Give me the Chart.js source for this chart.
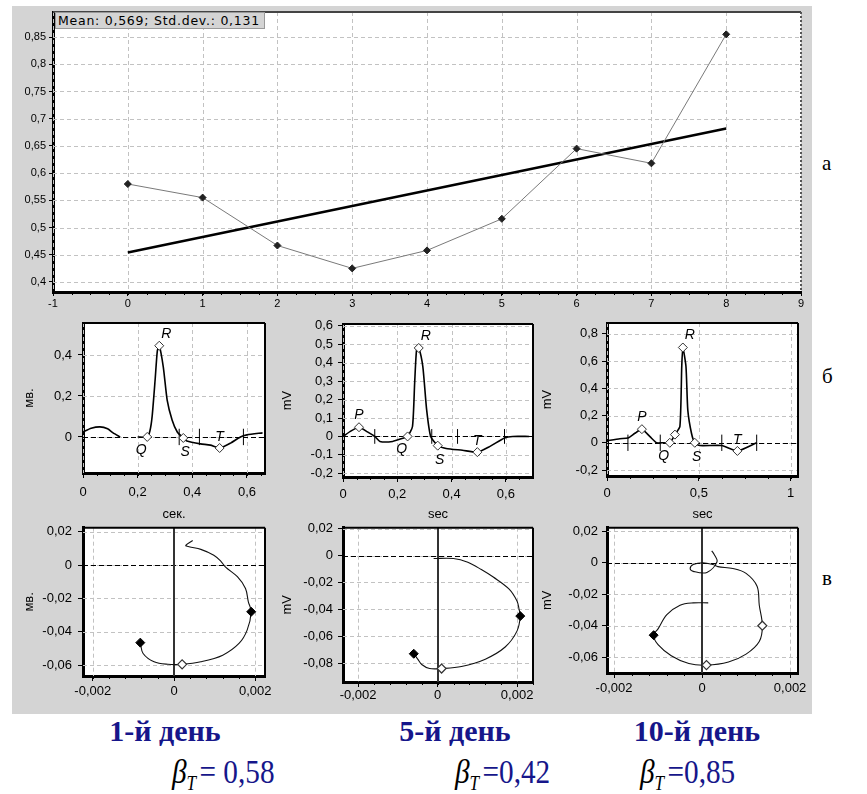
<!DOCTYPE html>
<html>
<head>
<meta charset="utf-8">
<script src="https://cdn.jsdelivr.net/npm/chart.js@4/dist/chart.umd.min.js"></script>
<style>
  body { margin: 0; width: 867px; height: 794px; position: relative; overflow: hidden; background: #fff; font-family: "Liberation Sans", Arial, sans-serif; }
  #grey { position: absolute; left: 12px; top: 6px; width: 800px; height: 708px; background: #d4d4d4; }
  canvas { position: absolute; }
  #mean { position: absolute; left: 55px; top: 12px; width: 206px; height: 15px; background: #d4d4d4; border: 1px solid #999; font-family: "DejaVu Sans", sans-serif; font-size: 12.5px; letter-spacing: 0.75px; line-height: 15px; padding-left: 2px; color: #000; white-space: nowrap; overflow: hidden; }
  .side { position: absolute; font-family: "Liberation Serif", serif; font-size: 21px; color: #000; }
  .day { position: absolute; top: 714px; transform: translateX(-50%); font-family: "Liberation Serif", "Times New Roman", serif; font-weight: bold; font-size: 30px; color: #16168a; white-space: nowrap; }
  .beta { position: absolute; top: 753px; transform: scaleX(0.86); transform-origin: 0 0; font-family: "Liberation Serif", "Times New Roman", serif; font-size: 34px; color: #16168a; white-space: nowrap; }
  .beta i { color: #000; font-family: "Liberation Serif", serif; }
  .beta sub { color: #000; font-style: italic; font-size: 20px; vertical-align: -7px; margin-right: 4px; font-family: "Liberation Serif", serif; }
</style>
</head>
<body>
<div id="grey"></div>
<canvas id="top" width="800" height="306" style="left:12px;top:6px"></canvas>
<div id="mean"></div>
<canvas id="ecg1" width="268" height="210" style="left:12px;top:312px"></canvas>
<canvas id="ecg2" width="260" height="210" style="left:280px;top:312px"></canvas>
<canvas id="ecg3" width="272" height="210" style="left:540px;top:312px"></canvas>
<canvas id="loop1" width="268" height="192" style="left:12px;top:522px"></canvas>
<canvas id="loop2" width="260" height="192" style="left:280px;top:522px"></canvas>
<canvas id="loop3" width="272" height="192" style="left:540px;top:522px"></canvas>
<div class="side" style="left:822px;top:151px">а</div>
<div class="side" style="left:822px;top:364px">б</div>
<div class="side" style="left:822px;top:566px">в</div>
<div class="day" style="left:165px">1-й день</div>
<div class="day" style="left:455px">5-й день</div>
<div class="day" style="left:697px">10-й день</div>
<div class="beta" style="left:172px"><i>β</i><sub>T</sub>= 0,58</div>
<div class="beta" style="left:455px"><i>β</i><sub>T</sub>=0,42</div>
<div class="beta" style="left:640px"><i>β</i><sub>T</sub>=0,85</div>
<script>
// top chart: beta_T by day
var days = [0, 1, 2, 3, 4, 5, 6, 7, 8];
var betaT = [0.58, 0.555, 0.467, 0.425, 0.458, 0.516, 0.645, 0.618, 0.855];
var trendDays = [0, 8];
var trendBeta = [0.454, 0.682];
var topXTicks = [-1, 0, 1, 2, 3, 4, 5, 6, 7, 8, 9];
var topYTicks = [0.4, 0.45, 0.5, 0.55, 0.6, 0.65, 0.7, 0.75, 0.8, 0.85];
var meanText = 'Mean: 0,569; Std.dev.: 0,131';

// ECG, day 1
var ecg1T = [0, 0.03, 0.062, 0.09, 0.11, 0.136, 0.17, 0.2, 0.235, 0.245, 0.253, 0.264, 0.272, 0.279, 0.294, 0.308, 0.326, 0.345, 0.367, 0.38, 0.43, 0.466, 0.5, 0.54, 0.576, 0.6, 0.657];
var ecg1V = [0.024, 0.042, 0.049, 0.04, 0.02, 0.0, null, 0.0, 0.0, 0.03, 0.1, 0.28, 0.42, 0.445, 0.34, 0.18, 0.083, 0.024, -0.005, -0.02, -0.034, -0.04, -0.054, -0.03, 0.0, 0.01, 0.02];
var ecg1WaveT = [0.235, 0.279, 0.367, 0.5];
var ecg1WaveV = [0.0, 0.445, -0.005, -0.054];
var ecg1WaveNames = ['Q', 'R', 'S', 'T'];
var ecg1Bars = [0.352, 0.426, 0.587];
var ecg1XTicks = [0, 0.2, 0.4, 0.6];
var ecg1YTicks = [0, 0.2, 0.4];

// ECG, day 5
var ecg2T = [0, 0.03, 0.059, 0.09, 0.117, 0.136, 0.183, 0.22, 0.238, 0.256, 0.264, 0.271, 0.279, 0.294, 0.308, 0.323, 0.349, 0.38, 0.44, 0.495, 0.54, 0.595, 0.625, 0.686];
var ecg2V = [0.0, 0.03, 0.05, 0.025, 0.0, -0.027, -0.027, -0.01, 0.0, 0.054, 0.29, 0.47, 0.48, 0.38, 0.147, 0.0, -0.05, -0.065, -0.075, -0.085, -0.055, -0.008, 0.0, 0.0];
var ecg2WaveT = [0.059, 0.238, 0.279, 0.349, 0.495];
var ecg2WaveV = [0.05, 0.0, 0.48, -0.05, -0.085];
var ecg2WaveNames = ['P', 'Q', 'R', 'S', 'T'];
var ecg2Bars = [0.117, 0.327, 0.422, 0.595];
var ecg2XTicks = [0, 0.2, 0.4, 0.6];
var ecg2YTicks = [-0.2, -0.1, 0, 0.1, 0.2, 0.3, 0.4, 0.5, 0.6];

// ECG, day 10
var ecg3T = [0, 0.07, 0.114, 0.152, 0.19, 0.234, 0.27, 0.3, 0.342, 0.37, 0.397, 0.407, 0.413, 0.43, 0.44, 0.46, 0.478, 0.505, 0.625, 0.71, 0.815];
var ecg3V = [0.015, 0.03, 0.035, 0.07, 0.1, 0.045, 0.0, 0.0, 0.0, 0.06, 0.12, 0.56, 0.7, 0.56, 0.24, 0.07, 0.0, -0.02, -0.02, -0.06, 0.0];
var ecg3WaveT = [0.19, 0.342, 0.37, 0.413, 0.478, 0.71];
var ecg3WaveV = [0.1, 0.0, 0.06, 0.7, 0.0, -0.06];
var ecg3WaveNames = ['P', 'Q', '', 'R', 'S', 'T'];
var ecg3Bars = [0.114, 0.29, 0.625, 0.815];
var ecg3XTicks = [0, 0.5, 1];
var ecg3YTicks = [-0.2, 0, 0.2, 0.4, 0.6, 0.8];

// vector loops
var loop1X = [0.00046, 0.00029, 0.00037, 0.00066, 0.00098, 0.00115, 0.00127, 0.00156, 0.00176, 0.00183, 0.0019, 0.0018, 0.0016, 0.0012, 0.00066, 0.0002, -0.00015, -0.00049, -0.00076, -0.00083];
var loop1Y = [0.0147, 0.0118, 0.011, 0.0094, 0.0059, 0.0024, -0.0012, -0.007, -0.014, -0.022, -0.028, -0.039, -0.047, -0.054, -0.058, -0.0595, -0.0595, -0.058, -0.053, -0.0465];
var loop1FillX = [0.0019, -0.00083];
var loop1FillY = [-0.028, -0.0465];
var loop1OpenX = [0.0002];
var loop1OpenY = [-0.0595];
var loop1XTicks = [-0.002, 0, 0.002];
var loop1YTicks = [-0.06, -0.04, -0.02, 0, 0.02];

var loop2X = [-0.0001, 0.0004, 0.00076, 0.0011, 0.0014, 0.0018, 0.002, 0.00205, 0.00208, 0.002, 0.0017, 0.0012, 0.0006, 0.0001, -0.0002, -0.0004, -0.0005, -0.0006];
var loop2Y = [-0.0022, -0.0022, -0.005, -0.0104, -0.016, -0.025, -0.034, -0.04, -0.045, -0.056, -0.068, -0.077, -0.0825, -0.084, -0.084, -0.081, -0.077, -0.073];
var loop2FillX = [0.00208, -0.0006];
var loop2FillY = [-0.045, -0.073];
var loop2OpenX = [0.0001];
var loop2OpenY = [-0.084];
var loop2XTicks = [-0.002, 0, 0.002];
var loop2YTicks = [-0.08, -0.06, -0.04, -0.02, 0, 0.02];

var loop3X = [0.00022, 0.00027, 0.00034, 0.00011, -0.0002, -0.00027, -0.0002, 0.00002, 0.00025, 0.00036, 0.0007, 0.001, 0.00125, 0.0013, 0.00137, 0.0013, 0.001, 0.0006, 0.0001, -0.0003, -0.0007, -0.001, -0.0011, -0.001, -0.0008, -0.0005, -0.0002, 0.00014];
var loop3Y = [0.0075, 0.0055, 0.0006, -0.0062, -0.0055, -0.0037, -0.0012, 0.0, -0.0012, -0.0025, -0.0037, -0.0068, -0.015, -0.027, -0.04, -0.05, -0.058, -0.063, -0.065, -0.064, -0.059, -0.052, -0.046, -0.042, -0.033, -0.027, -0.0255, -0.0255];
var loop3FillX = [-0.0011];
var loop3FillY = [-0.046];
var loop3OpenX = [0.00137, 0.0001];
var loop3OpenY = [-0.04, -0.065];
var loop3XTicks = [-0.002, 0, 0.002];
var loop3YTicks = [-0.06, -0.04, -0.02, 0, 0.02];

document.getElementById('mean').textContent = meanText;

// 0.45 => "0,45"
function commaNum(v) {
    return String(+Number(v).toFixed(4)).replace('.', ',');
}

function xy(xs, ys) {
    return xs.map(function (x, i) { return { x: x, y: ys[i] }; });
}

// short vertical marks on the ECG baseline
function barData(xs, half) {
    var d = [];
    xs.forEach(function (x) {
        d.push({ x: x, y: -half }, { x: x, y: half }, { x: x, y: null });
    });
    return d;
}

function axis(min, max, ticks, size, o) {
    o = o || {};
    return {
        type: 'linear', min: min, max: max,
        minor: o.minor || 0,
        afterBuildTicks: function (s) { s.ticks = ticks.map(function (v) { return { value: v }; }); },
        afterFit: function (s) {
            if (s.isHorizontal()) s.height = size; else s.width = size;
            s.paddingLeft = s.paddingRight = s.paddingTop = s.paddingBottom = 0;
        },
        ticks: {
            callback: commaNum, color: '#000', padding: o.pad || 0, maxRotation: 0, autoSkip: false,
            font: { family: 'Liberation Sans', size: o.font || 13 }
        },
        grid: { drawOnChartArea: false, color: '#000', tickColor: '#000', tickLength: o.tick || 5 },
        border: { color: '#000', width: 3 },
        title: o.title ? {
            display: true, text: o.title, color: '#000',
            font: { family: 'Liberation Sans', size: 13 }, padding: o.titlePad || 0
        } : { display: false }
    };
}

var framePlugin = {
    id: 'frame',
    beforeDraw: function (chart) {
        var a = chart.chartArea, c = chart.ctx;
        c.save();
        c.fillStyle = '#fff';
        c.fillRect(a.left, a.top, a.right - a.left, a.bottom - a.top);
        c.restore();
    },
    beforeDatasetsDraw: function (chart, args, o) {
        var a = chart.chartArea, c = chart.ctx, xs = chart.scales.x, ys = chart.scales.y;
        c.save();
        // dashed grid
        c.strokeStyle = '#c2c2c2'; c.lineWidth = 1; c.setLineDash([4, 3]);
        xs.ticks.forEach(function (t) {
            var x = Math.round(xs.getPixelForValue(t.value)) + 0.5;
            c.beginPath(); c.moveTo(x, a.top); c.lineTo(x, a.bottom); c.stroke();
        });
        ys.ticks.forEach(function (t) {
            var y = Math.round(ys.getPixelForValue(t.value)) + 0.5;
            c.beginPath(); c.moveTo(a.left, y); c.lineTo(a.right, y); c.stroke();
        });
        // minor ticks on the bottom axis
        var n = xs.options.minor;
        if (n) {
            c.setLineDash([]); c.strokeStyle = '#000';
            var tv = xs.ticks.map(function (t) { return t.value; });
            var step = (tv[1] - tv[0]) / n;
            for (var v = tv[0] - step * 20; v <= xs.max; v += step) {
                if (v < xs.min) continue;
                var px = Math.round(xs.getPixelForValue(v)) + 0.5;
                c.beginPath(); c.moveTo(px, a.bottom); c.lineTo(px, a.bottom + 3); c.stroke();
            }
        }
        if (o.zeroY) {
            var y = Math.round(ys.getPixelForValue(0)) + 0.5;
            c.strokeStyle = '#000'; c.lineWidth = 1; c.setLineDash([5, 3]);
            c.beginPath(); c.moveTo(a.left, y); c.lineTo(a.right, y); c.stroke();
        }
        if (o.zeroX) {
            var x = Math.round(xs.getPixelForValue(0));
            c.strokeStyle = '#333'; c.lineWidth = 2; c.setLineDash([]);
            c.beginPath(); c.moveTo(x, a.top); c.lineTo(x, a.bottom); c.stroke();
        }
        c.restore();
    },
    afterDatasetsDraw: function (chart, args, o) {
        if (!o.names) return;
        var c = chart.ctx;
        var off = { P: [0, -12], Q: [-6, 13], R: [7, -12], S: [2, 14], T: [0, -11] };
        c.save();
        c.font = 'italic 14px "Liberation Sans"';
        c.fillStyle = '#000';
        c.textAlign = 'center';
        c.textBaseline = 'middle';
        o.names.forEach(function (n, i) {
            if (!n) return;
            var x = chart.scales.x.getPixelForValue(o.namesX[i]) + off[n][0];
            var y = chart.scales.y.getPixelForValue(o.namesY[i]) + off[n][1];
            c.fillText(n, x, y);
        });
        c.restore();
    },
    afterDraw: function (chart, args, o) {
        var a = chart.chartArea, c = chart.ctx;
        c.save();
        c.strokeStyle = o.dottedRight ? '#444' : '#000';
        c.lineWidth = 2;
        c.beginPath(); c.moveTo(a.left, a.top); c.lineTo(a.right, a.top); c.stroke();
        if (o.dottedRight) {
            c.strokeStyle = '#555'; c.setLineDash([2, 2]);
        }
        c.beginPath(); c.moveTo(a.right, a.top); c.lineTo(a.right, a.bottom); c.stroke();
        c.restore();
    }
};

function makeChart(id, datasets, pad, xAxis, yAxis, frame) {
    return new Chart(document.getElementById(id), {
        type: 'scatter',
        data: { datasets: datasets },
        options: {
            responsive: false, animation: false,
            layout: { padding: pad },
            plugins: { legend: { display: false }, tooltip: { enabled: false }, frame: frame },
            scales: { x: xAxis, y: yAxis }
        },
        plugins: [framePlugin]
    });
}

function ecgSets(t, v, wt, wv, bars, half) {
    return [
        { data: xy(wt, wv), pointStyle: 'rectRot', pointRadius: 4.5, backgroundColor: '#fff', borderColor: '#333', borderWidth: 1 },
        { data: xy(t, v), showLine: true, borderColor: '#000', borderWidth: 1.6, pointRadius: 0, tension: 0.2 },
        { data: barData(bars, half), showLine: true, borderColor: '#000', borderWidth: 1, pointRadius: 0 }
    ];
}

function loopSets(lx, ly, fx, fy, ox, oy) {
    return [
        { data: xy(fx, fy), pointStyle: 'rectRot', pointRadius: 4.5, backgroundColor: '#000', borderColor: '#000', borderWidth: 1 },
        { data: xy(ox, oy), pointStyle: 'rectRot', pointRadius: 4.5, backgroundColor: '#fff', borderColor: '#333', borderWidth: 1.2 },
        { data: xy(lx, ly), showLine: true, borderColor: '#111', borderWidth: 1.1, pointRadius: 0, tension: 0.35 }
    ];
}

// top chart
makeChart('top', [
    { data: xy(days, betaT), showLine: true, borderColor: '#7a7a7a', borderWidth: 1, pointStyle: 'rectRot', pointRadius: 3.5, pointBackgroundColor: '#222', pointBorderColor: '#222' },
    { data: xy(trendDays, trendBeta), showLine: true, borderColor: '#000', borderWidth: 2.5, pointRadius: 0 }
], { left: 0, right: 11, top: 6, bottom: 0 },
    axis(-1, 9, topXTicks, 20, { font: 11, tick: 4, pad: 1, minor: 4 }),
    axis(0.3816, 0.896, topYTicks, 41, { font: 11, tick: 4, pad: 3 }),
    { dottedRight: true });

// ECG panels
makeChart('ecg1', ecgSets(ecg1T, ecg1V, ecg1WaveT, ecg1WaveV, ecg1Bars, 0.04),
    { left: 0, right: 15, top: 11, bottom: 0 },
    axis(0, 0.666, ecg1XTicks, 49, { pad: 7, title: 'сек.', minor: 4 }),
    axis(-0.176, 0.556, ecg1YTicks, 71, { pad: 6, title: 'мв.', titlePad: 10 }),
    { zeroY: true, names: ecg1WaveNames, namesX: ecg1WaveT, namesY: ecg1WaveV });

makeChart('ecg2', ecgSets(ecg2T, ecg2V, ecg2WaveT, ecg2WaveV, ecg2Bars, 0.04),
    { left: 0, right: 7, top: 12, bottom: 0 },
    axis(0, 0.7, ecg2XTicks, 45, { pad: 5, title: 'sec', minor: 4 }),
    axis(-0.22, 0.61, ecg2YTicks, 63, { pad: 5, title: 'mV' }),
    { zeroY: true, names: ecg2WaveNames, namesX: ecg2WaveT, namesY: ecg2WaveV });

makeChart('ecg3', ecgSets(ecg3T, ecg3V, ecg3WaveT, ecg3WaveV, ecg3Bars, 0.06),
    { left: 0, right: 14, top: 11, bottom: 0 },
    axis(0, 1.04, ecg3XTicks, 46, { pad: 5, title: 'sec', minor: 4 }),
    axis(-0.244, 0.88, ecg3YTicks, 67, { pad: 4, title: 'mV' }),
    { zeroY: true, names: ecg3WaveNames, namesX: ecg3WaveT, namesY: ecg3WaveV });

// vector loop panels
makeChart('loop1', loopSets(loop1X, loop1Y, loop1FillX, loop1FillY, loop1OpenX, loop1OpenY),
    { left: 0, right: 15, top: 5, bottom: 0 },
    axis(-0.00224, 0.00224, loop1XTicks, 38, { pad: 3, minor: 5 }),
    axis(-0.0665, 0.0224, loop1YTicks, 71, { pad: 6, title: 'мв.', titlePad: 10 }),
    { zeroY: true, zeroX: true });

makeChart('loop2', loopSets(loop2X, loop2Y, loop2FillX, loop2FillY, loop2OpenX, loop2OpenY),
    { left: 0, right: 7, top: 5, bottom: 0 },
    axis(-0.00238, 0.0024, loop2XTicks, 32, { pad: 1, minor: 5 }),
    axis(-0.094, 0.0207, loop2YTicks, 63, { pad: 5, title: 'mV' }),
    { zeroY: true, zeroX: true });

makeChart('loop3', loopSets(loop3X, loop3Y, loop3FillX, loop3FillY, loop3OpenX, loop3OpenY),
    { left: 0, right: 14, top: 1, bottom: 0 },
    axis(-0.00216, 0.00218, loop3XTicks, 41, { pad: 3, minor: 5 }),
    axis(-0.070, 0.0222, loop3YTicks, 67, { pad: 4, title: 'mV' }),
    { zeroY: true, zeroX: true });
</script>
</body>
</html>
